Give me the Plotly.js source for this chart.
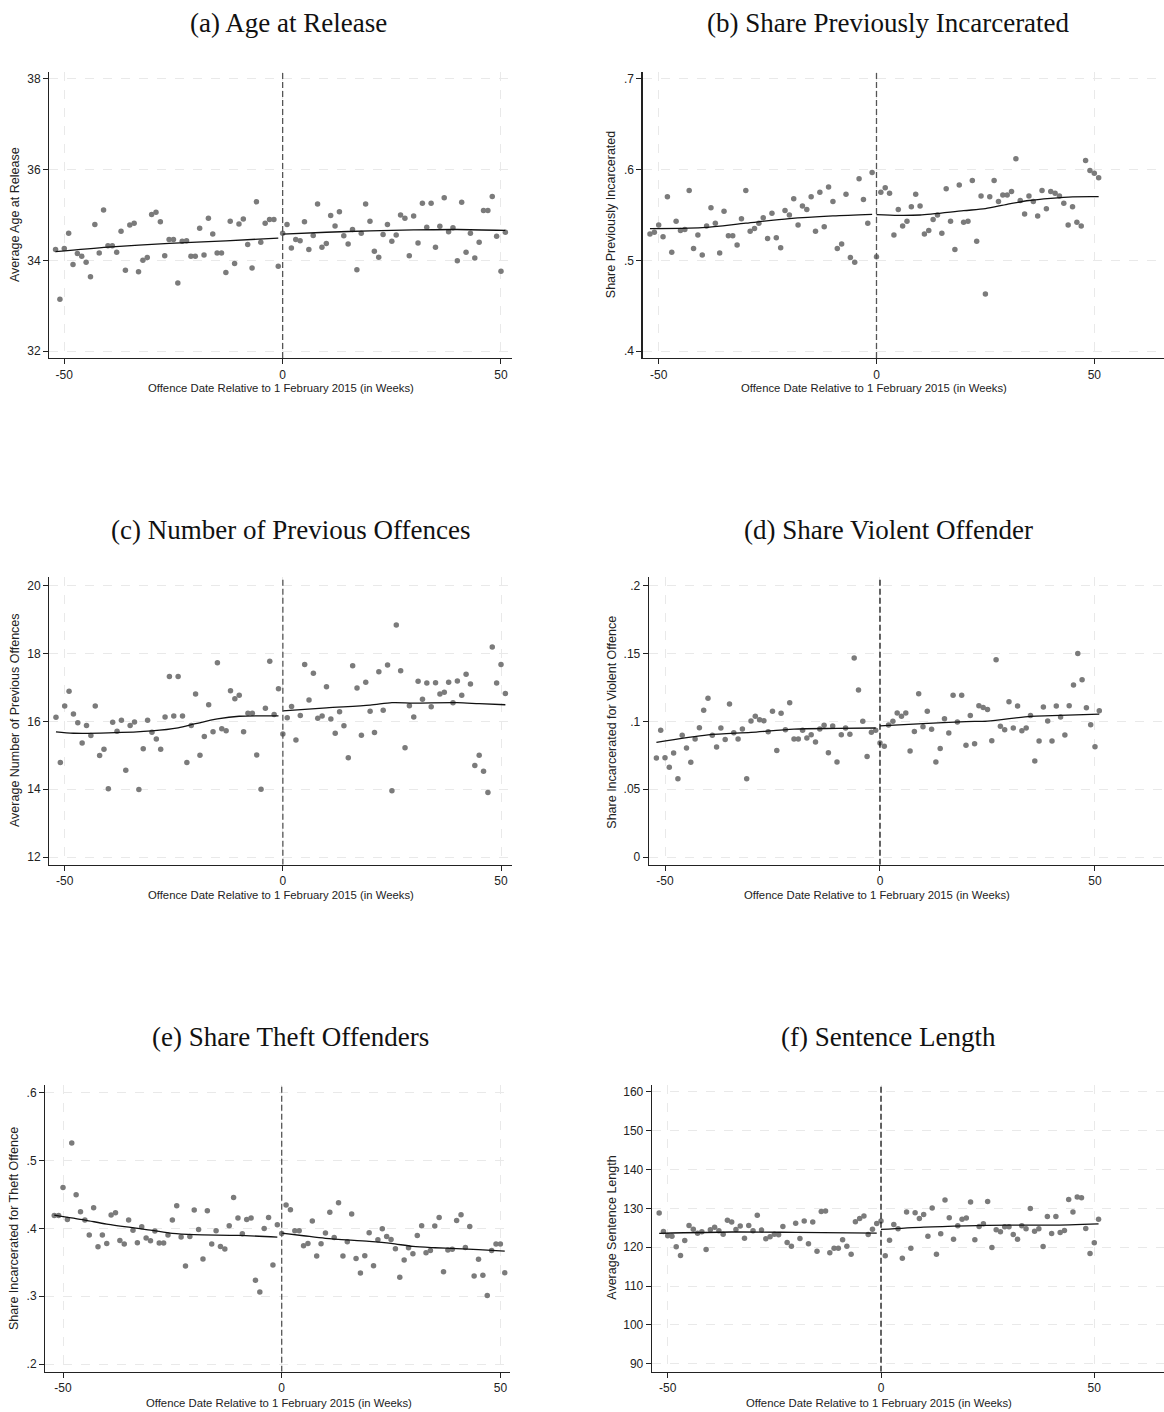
<!DOCTYPE html>
<html>
<head>
<meta charset="utf-8">
<script src="https://cdn.plot.ly/plotly-3.0.1.min.js"></script>
<style>
  html, body { margin: 0; padding: 0; background: #fff; }
  #chart { width: 1164px; height: 1412px; }
</style>
</head>
<body>
<div id="chart"></div>
<script>
// ---------------- DATA ----------------
const weeks = [-52,-51,-50,-49,-48,-47,-46,-45,-44,-43,-42,-41,-40,-39,-38,-37,-36,-35,-34,-33,-32,-31,-30,-29,-28,-27,-26,-25,-24,-23,-22,-21,-20,-19,-18,-17,-16,-15,-14,-13,-12,-11,-10,-9,-8,-7,-6,-5,-4,-3,-2,-1,
  0,1,2,3,4,5,6,7,8,9,10,11,12,13,14,15,16,17,18,19,20,21,22,23,24,25,26,27,28,29,30,31,32,33,34,35,36,37,38,39,40,41,42,43,44,45,46,47,48,49,50,51];

const xTickVals = [-50, 0, 50];
const xTickText = ['-50', '0', '50'];

// (a) Age at Release
const ageAtRelease = [34.24,33.14,34.26,34.60,33.91,34.15,34.09,33.96,33.64,34.79,34.16,35.11,34.32,34.32,34.18,34.64,33.78,34.78,34.82,33.75,34.00,34.06,35.01,35.06,34.85,34.10,34.46,34.46,33.50,34.42,34.43,34.09,34.09,34.71,34.12,34.93,34.58,34.16,34.16,33.73,34.86,33.93,34.80,34.91,34.35,33.83,35.29,34.40,34.82,34.90,34.90,33.87,
  34.60,34.79,34.27,34.46,34.43,34.85,34.24,34.55,35.24,34.29,34.37,34.99,34.76,35.07,34.54,34.36,34.68,33.79,34.60,35.24,34.86,34.20,34.07,34.57,34.79,34.42,34.56,35.00,34.93,34.10,34.98,34.38,35.26,34.73,35.26,34.29,34.75,35.38,34.63,34.72,33.99,35.28,34.18,34.60,34.05,34.40,35.10,35.10,35.41,34.53,33.76,34.62];
const ageFitLeftX = [-52,-40,-26,-13,-1];
const ageFitLeftY = [34.19,34.29,34.375,34.43,34.49];
const ageFitRightX = [0,10,20,30,40,51];
const ageFitRightY = [34.58,34.62,34.65,34.67,34.68,34.66];
const ageTicks = [32,34,36,38];
const ageTickText = ['32','34','36','38'];

// (b) Share Previously Incarcerated
const sharePrevInc = [.529,.531,.539,.526,.570,.509,.543,.533,.534,.577,.513,.528,.506,.538,.558,.541,.508,.554,.527,.527,.517,.546,.577,.532,.535,.541,.547,.524,.552,.525,.514,.555,.550,.568,.539,.560,.556,.570,.532,.575,.537,.581,.565,.513,.518,.573,.503,.498,.590,.567,.541,.597,
  .504,.575,.580,.574,.528,.556,.538,.543,.559,.573,.560,.529,.533,.545,.550,.530,.579,.543,.512,.583,.542,.543,.588,.521,.571,.463,.570,.588,.565,.572,.572,.576,.612,.566,.551,.571,.565,.549,.577,.557,.576,.574,.571,.563,.539,.559,.542,.538,.610,.599,.596,.591];
const prevFitLeftX = [-52,-40,-30,-20,-10,-1];
const prevFitLeftY = [.535,.536,.541,.546,.549,.5507];
const prevFitRightX = [0,5,10,20,25,30,35,40,45,51];
const prevFitRightY = [.5504,.5496,.5500,.5548,.5570,.5618,.5660,.5684,.5700,.5702];
const prevTicks = [.4,.5,.6,.7];
const prevTickText = ['.4','.5','.6','.7'];

// (c) Number of Previous Offences
const numPrevOffences = [16.12,14.79,16.45,16.89,16.22,15.96,15.36,15.88,15.58,16.45,14.99,15.18,14.01,15.97,15.71,16.03,14.56,15.88,15.98,13.99,15.19,16.03,15.68,15.48,15.18,16.13,17.32,16.16,17.32,16.16,14.79,15.88,16.81,15.00,15.55,16.49,15.69,17.73,15.78,15.72,16.90,16.67,16.77,15.69,16.24,16.24,15.01,14.00,16.39,17.77,16.20,16.96,
  15.63,16.11,16.44,15.45,16.17,17.68,16.63,17.42,16.09,16.16,17.02,16.07,15.65,16.28,15.87,14.93,17.64,16.98,15.59,17.15,16.30,15.67,17.46,16.33,17.66,13.95,18.84,17.49,15.22,16.46,16.13,17.18,16.65,17.13,16.43,17.14,16.81,16.86,17.15,16.55,17.19,16.77,17.39,17.10,14.70,15.00,14.53,13.90,18.19,17.13,17.68,16.82];
const offFitLeftX = [-52,-48,-40,-30,-24,-20,-15,-10,-1];
const offFitLeftY = [15.69,15.65,15.66,15.72,15.81,15.93,16.07,16.15,16.16];
const offFitRightX = [0,10,20,25,30,40,45,51];
const offFitRightY = [16.31,16.40,16.48,16.55,16.54,16.55,16.52,16.49];
const offTicks = [12,14,16,18,20];
const offTickText = ['12','14','16','18','20'];

// (d) Share Violent Offender
const shareViolent = [.073,.0934,.0732,.0661,.0767,.0577,.0897,.0803,.0698,.087,.0953,.1081,.117,.0897,.0811,.0951,.0867,.1128,.0916,.087,.0943,.0577,.1002,.1037,.1012,.1005,.0924,.1074,.0786,.1059,.0939,.1138,.087,.087,.0934,.0877,.0902,.0848,.0943,.0971,.0769,.0966,.070,.0902,.0951,.0904,.1467,.1231,.100,.074,.0919,.0934,
  .084,.0816,.0973,.100,.1061,.1037,.1061,.0781,.0926,.1204,.0961,.1074,.0941,.070,.0799,.102,.0914,.1192,.0995,.1192,.0823,.1044,.0835,.1115,.1103,.1088,.0857,.1455,.0963,.0939,.1145,.0951,.1113,.0931,.0951,.1044,.0708,.0855,.1106,.1002,.0855,.1113,.1032,.0899,.1115,.1268,.1501,.1307,.1101,.0975,.0813,.1079];
const violFitLeftX = [-52,-40,-30,-20,-10,-1];
const violFitLeftY = [.0845,.0900,.0919,.0943,.0948,.0951];
const violFitRightX = [0,10,20,25,35,40,51];
const violFitRightY = [.0966,.0983,.0998,.1002,.1037,.1042,.1054];
const violTicks = [0,.05,.1,.15,.2];
const violTickText = ['0','.05','.1','.15','.2'];

// (e) Share Theft Offenders
const shareTheft = [.4191,.4191,.4604,.4133,.5261,.4496,.4245,.4123,.3902,.4304,.373,.3902,.3779,.4196,.4231,.3823,.3769,.4123,.3971,.3789,.4025,.3858,.3818,.3961,.3784,.3784,.3902,.4123,.4334,.3872,.3445,.3882,.427,.3985,.3548,.426,.3769,.3966,.3735,.3696,.4039,.4456,.4152,.3921,.4133,.4152,.3234,.3063,.400,.4162,.346,.4054,
  .3926,.4344,.4275,.3966,.3966,.3745,.3779,.4108,.3593,.3774,.3931,.424,.3867,.4378,.3593,.3804,.4211,.3558,.3342,.3598,.3936,.345,.3833,.3995,.3882,.3838,.3701,.3279,.3534,.3715,.3627,.3897,.4039,.3642,.3676,.4034,.4162,.3362,.3681,.3691,.4118,.4201,.372,.4029,.3298,.3544,.3308,.3009,.3676,.3769,.3769,.3347];
const theftFitLeftX = [-52,-45,-40,-30,-25,-20,-10,-1];
const theftFitLeftY = [.4196,.4123,.4064,.3975,.3926,.3907,.3897,.3872];
const theftFitRightX = [0,5,10,20,25,30,35,40,45,51];
const theftFitRightY = [.3931,.3892,.3853,.3809,.3779,.3735,.3715,.3701,.3686,.3666];
const theftTicks = [.2,.3,.4,.5,.6];
const theftTickText = ['.2','.3','.4','.5','.6'];

// (f) Sentence Length
const sentenceLength = [128.77,124.04,122.92,122.84,120.09,117.85,121.72,125.59,124.64,123.61,123.96,119.40,124.47,125.16,124.21,123.35,126.96,126.45,124.56,125.42,122.32,125.59,124.21,128.25,124.39,122.15,122.67,123.35,123.18,125.33,121.20,120.26,126.19,122.24,126.71,120.86,126.45,118.97,129.20,129.29,118.54,119.74,119.74,121.89,120.26,118.19,126.53,127.39,128.00,123.27,124.64,126.10,
  126.71,117.76,121.81,125.85,124.73,117.16,129.03,119.74,128.86,127.39,128.43,122.84,130.06,118.19,123.44,132.12,127.57,122.06,125.50,127.22,127.48,131.61,121.89,125.33,126.02,131.78,119.91,124.47,123.96,125.25,125.25,123.27,122.06,125.50,124.73,129.97,124.13,124.73,120.17,127.91,123.53,127.91,123.78,124.30,132.30,129.03,132.90,132.73,124.82,118.37,121.12,127.22];
const sentFitLeftX = [-52,-35,-20,-1];
const sentFitLeftY = [123.55,123.90,123.80,123.60];
const sentFitRightX = [0,10,20,30,40,51];
const sentFitRightY = [124.56,125.16,125.50,125.68,125.68,126.02];
const sentTicks = [90,100,110,120,130,140,150,160];
const sentTickText = ['90','100','110','120','130','140','150','160'];

const xTitleText = 'Offence Date Relative to 1 February 2015 (in Weeks)';

// ---------------- LAYOUT CONFIG ----------------
const W = 1164, H = 1412;
const panels = [
  { title: '(a) Age at Release', ytitle: 'Average Age at Release', y: ageAtRelease,
    fl: [ageFitLeftX, ageFitLeftY], fr: [ageFitRightX, ageFitRightY], ticks: ageTicks, tickText: ageTickText,
    box: [49.3, 512, 72, 358], xr: [-53.43, 52.52], yr: [31.846, 38.154], vcol: '#555',
    tpos: [288, 23], xtpos: [280.5, 388], ytpos: [15, 215] },
  { title: '(b) Share Previously Incarcerated', ytitle: 'Share Previously Incarcerated', y: sharePrevInc,
    fl: [prevFitLeftX, prevFitLeftY], fr: [prevFitRightX, prevFitRightY], ticks: prevTicks, tickText: prevTickText,
    box: [642.7, 1164, 72, 358], xr: [-53.67, 66.0], yr: [0.3923, 0.7077], vcol: '#555',
    tpos: [888, 23], xtpos: [874, 388], ytpos: [611.7, 214.5] },
  { title: '(c) Number of Previous Offences', ytitle: 'Average Number of Previous Offences', y: numPrevOffences,
    fl: [offFitLeftX, offFitLeftY], fr: [offFitRightX, offFitRightY], ticks: offTicks, tickText: offTickText,
    box: [49.3, 512, 577.3, 864.7], xr: [-53.53, 52.52], yr: [11.773, 20.248], vcol: '#555',
    tpos: [290, 530], xtpos: [280.8, 895], ytpos: [15, 720] },
  { title: '(d) Share Violent Offender', ytitle: 'Share Incarcerated for Violent Offence', y: shareViolent,
    fl: [violFitLeftX, violFitLeftY], fr: [violFitRightX, violFitRightY], ticks: violTicks, tickText: violTickText,
    box: [649, 1164, 577.3, 864.7], xr: [-53.72, 66.05], yr: [-0.00568, 0.2062], vcol: '#111',
    tpos: [888, 530], xtpos: [877.3, 895], ytpos: [611.7, 722] },
  { title: '(e) Share Theft Offenders', ytitle: 'Share Incarcerated for Theft Offence', y: shareTheft,
    fl: [theftFitLeftX, theftFitLeftY], fr: [theftFitRightX, theftFitRightY], ticks: theftTicks, tickText: theftTickText,
    box: [45.3, 510, 1084.5, 1371.7], xr: [-54.05, 52.2], yr: [0.1887, 0.6122], vcol: '#555',
    tpos: [290, 1037], xtpos: [278.7, 1402.7], ytpos: [14, 1229] },
  { title: '(f) Sentence Length', ytitle: 'Average Sentence Length', y: sentenceLength,
    fl: [sentFitLeftX, sentFitLeftY], fr: [sentFitRightX, sentFitRightY], ticks: sentTicks, tickText: sentTickText,
    box: [652, 1164, 1084.5, 1371.7], xr: [-53.68, 66.34], yr: [87.94, 161.88], vcol: '#111',
    tpos: [888, 1037], xtpos: [878.7, 1402.7], ytpos: [611.7, 1228] }
];

const traces = [];
const shapes = [];
const annotations = [];
const layout = {
  width: W, height: H,
  margin: { l: 0, r: 0, t: 0, b: 0 },
  paper_bgcolor: '#fff', plot_bgcolor: '#fff',
  showlegend: false, hovermode: false,
  font: { family: 'Liberation Sans, Arial, sans-serif', color: '#222' }
};

const sans = 'Liberation Sans, Arial, sans-serif';
panels.forEach((p, i) => {
  const n = i + 1;
  const xa = 'x' + (n === 1 ? '' : n), ya = 'y' + (n === 1 ? '' : n);
  const xk = 'xaxis' + (n === 1 ? '' : n), yk = 'yaxis' + (n === 1 ? '' : n);
  const [x0, x1, y0, y1] = p.box;
  layout[xk] = {
    domain: [x0 / W, Math.min(1, x1 / W)], anchor: ya, range: p.xr,
    tickmode: 'array', tickvals: xTickVals, ticktext: xTickText,
    ticks: 'outside', ticklen: 5, tickwidth: 1, tickcolor: '#222',
    tickfont: { family: sans, size: 12, color: '#222' },
    showline: true, linecolor: '#222', linewidth: 1.3, mirror: false,
    showgrid: true, gridcolor: '#e9e9e9', gridwidth: 1, griddash: 'dash',
    zeroline: false, fixedrange: true
  };
  layout[yk] = {
    domain: [1 - y1 / H, 1 - y0 / H], anchor: xa, range: p.yr,
    tickmode: 'array', tickvals: p.ticks, ticktext: p.tickText,
    ticks: 'outside', ticklen: 5, tickwidth: 1, tickcolor: '#222',
    tickfont: { family: sans, size: 12, color: '#222' },
    showline: true, linecolor: '#222', linewidth: 1.3, mirror: false,
    showgrid: true, gridcolor: '#e9e9e9', gridwidth: 1, griddash: 'dash',
    zeroline: false, fixedrange: true
  };
  traces.push({
    type: 'scatter', mode: 'markers', x: weeks, y: p.y, xaxis: xa, yaxis: ya,
    marker: { color: '#7b7b7b', size: 5.5, line: { width: 0 } }
  });
  [p.fl, p.fr].forEach(f => traces.push({
    type: 'scatter', mode: 'lines', x: f[0], y: f[1], xaxis: xa, yaxis: ya,
    line: { color: '#111', width: 1.3, shape: 'spline', smoothing: 0.8 }
  }));
  shapes.push({
    type: 'line', xref: xa, yref: ya, x0: 0, x1: 0, y0: p.yr[0], y1: p.yr[1],
    line: { color: p.vcol, width: 1.3, dash: '6px,3px' }, layer: 'above'
  });
  annotations.push({
    xref: 'paper', yref: 'paper', x: p.tpos[0] / W, y: 1 - p.tpos[1] / H,
    xanchor: 'center', yanchor: 'middle', showarrow: false, text: p.title,
    font: { family: 'Liberation Serif, Times New Roman, serif', size: 27, color: '#111' }
  });
  annotations.push({
    xref: 'paper', yref: 'paper', x: p.xtpos[0] / W, y: 1 - p.xtpos[1] / H,
    xanchor: 'center', yanchor: 'middle', showarrow: false, text: xTitleText,
    font: { family: sans, size: 11.3, color: '#222' }
  });
  annotations.push({
    xref: 'paper', yref: 'paper', x: p.ytpos[0] / W, y: 1 - p.ytpos[1] / H,
    xanchor: 'center', yanchor: 'middle', showarrow: false, text: p.ytitle, textangle: -90,
    font: { family: sans, size: 12.5, color: '#222' }
  });
});
layout.shapes = shapes;
layout.annotations = annotations;

Plotly.newPlot('chart', traces, layout, { staticPlot: true, displayModeBar: false });
</script>
</body>
</html>
